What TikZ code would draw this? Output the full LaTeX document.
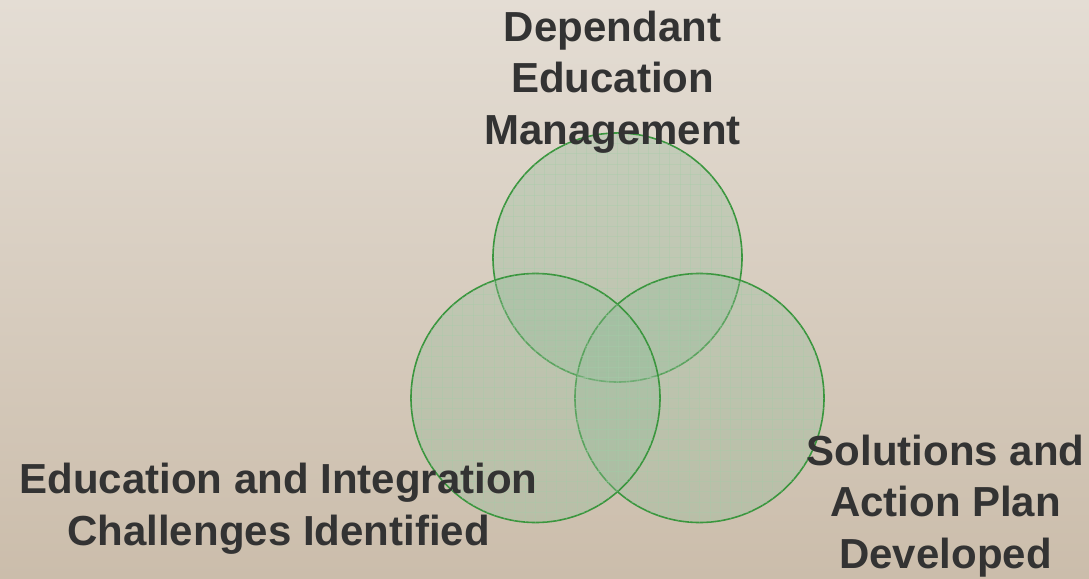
\documentclass[tikz,border=0pt]{standalone}
\usepackage{fontspec}
\setmainfont{Liberation Sans}
\definecolor{bgtop}{RGB}{228,221,212}
\definecolor{bgbot}{RGB}{203,189,171}
\definecolor{ringgreen}{RGB}{58,150,62}
\definecolor{ringfill}{RGB}{150,188,155}
\definecolor{gridgreen}{RGB}{165,205,168}
\definecolor{labeltext}{RGB}{51,51,51}
\tikzset{
  ring/.style={draw=ringgreen, line width=1.6pt, fill=ringfill, fill opacity=0.36, draw opacity=1},
  lbl/.style={text=labeltext, font=\fontsize{42}{51.5}\selectfont\bfseries, align=center, inner sep=0pt}
}
\newcommand{\ringgrid}[3]{%
  \begin{scope}
    \clip (#1,#2) circle[radius=#3];
    \foreach \k in {-12,...,12}{
      \draw[gridgreen, line width=0.6pt, opacity=0.35] (#1+\k*10.4,#2-130) -- (#1+\k*10.4,#2+130);
      \draw[gridgreen, line width=0.6pt, opacity=0.35] (#1-130,#2+\k*10.4) -- (#1+130,#2+\k*10.4);
    }
  \end{scope}}
\begin{document}
\begin{tikzpicture}[x=1pt,y=-1pt]
\shade[top color=bgtop, bottom color=bgbot] (0,0) rectangle (1089,578);
\useasboundingbox (0,0) rectangle (1089,578);
% top circle
\path[ring] (617.5,257.5) circle[radius=124.5];
\ringgrid{617.5}{257.5}{124.5}
% right circle
\path[ring] (699.5,398) circle[radius=124.5];
\ringgrid{699.5}{398}{124.5}
% left circle
\path[ring] (535.5,398) circle[radius=124.5];
\ringgrid{535.5}{398}{124.5}
\node[lbl, anchor=base] (top) at (612.5,144) {Dependant\\Education\\Management};
\node[lbl, anchor=base] (left) at (278.5,545) {Education and Integration\\Challenges Identified};
\node[lbl, anchor=base] (right) at (945.5,568) {Solutions and\\Action Plan\\Developed};
\end{tikzpicture}
\end{document}
